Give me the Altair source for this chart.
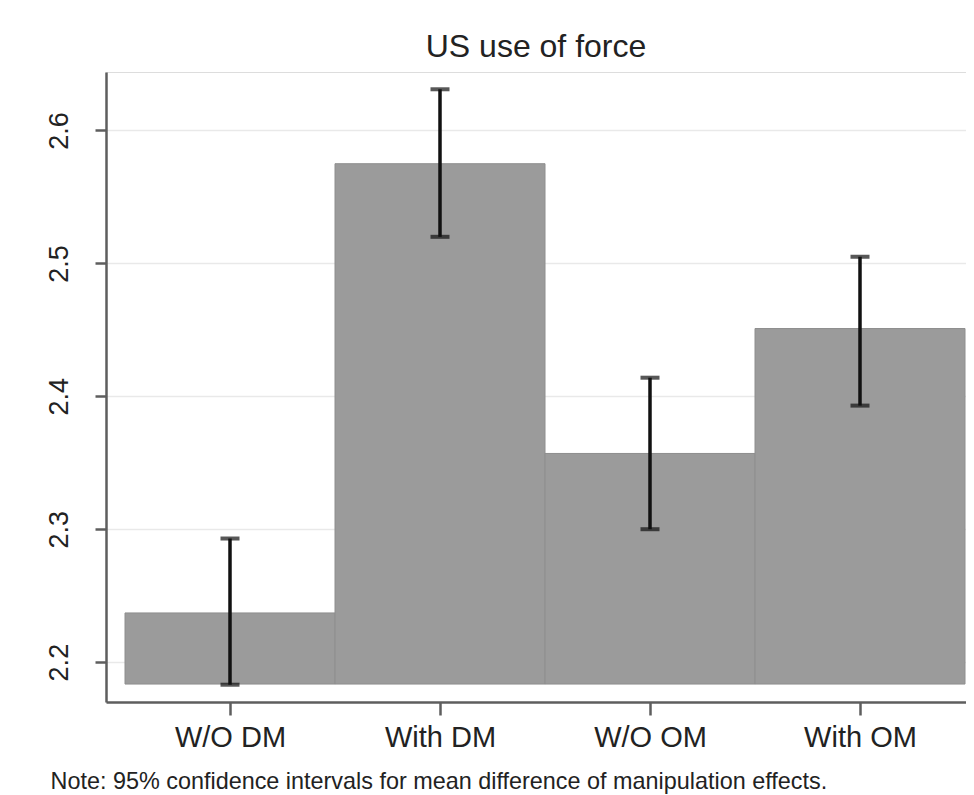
import json
import altair as alt
import pandas as pd

# ---- data ----
groups = ["W/O DM", "With DM", "W/O OM", "With OM"]
means = [2.237, 2.575, 2.357, 2.451]
ci_low = [2.183, 2.520, 2.300, 2.393]
ci_high = [2.293, 2.631, 2.414, 2.505]
bar_base = 2.1835
y_ticks = [2.2, 2.3, 2.4, 2.5, 2.6]
title_text = "US use of force"
note_text = "Note: 95% confidence intervals for mean difference of manipulation effects."

df = pd.DataFrame({
    "group": groups,
    "pos": list(range(len(groups))),
    "mean": means,
    "lo": ci_low,
    "hi": ci_high,
    "base": [bar_base] * len(groups),
})

FONT = "Liberation Sans"
TXT = "#222222"
AX = "#5e5e5e"

xscale = alt.Scale(domain=[-0.5 - 19 / 210, 3.5 + 1 / 210], nice=False, zero=False)
yscale = alt.Scale(domain=[2.17, 2.644], nice=False, zero=False)

label_expr = json.dumps(groups) + "[datum.value]"

x_axis = alt.Axis(
    values=list(range(len(groups))), labelExpr=label_expr, grid=False,
    title=note_text, titleFont=FONT, titleFontSize=23.4, titleFontWeight="normal",
    titleColor=TXT, titleAnchor="start", titleAlign="left", titleBaseline="alphabetic",
    titleX=-56, titleY=86,
    labelFont=FONT, labelFontSize=29, labelColor=TXT, labelPadding=8,
    domainColor=AX, domainWidth=2.5, tickColor=AX, tickWidth=2.5, tickSize=13,
)
y_axis = alt.Axis(
    values=y_ticks, title=None, grid=True, gridColor="#e9e9e9", gridWidth=1.5,
    labelFont=FONT, labelFontSize=27, labelColor=TXT, labelAngle=270,
    labelAlign="center", labelBaseline="alphabetic", labelPadding=28,
    domainColor=AX, domainWidth=2.5, tickColor=AX, tickWidth=2.5, tickSize=11,
    format=".1f",
)

base = alt.Chart(df)

bars = base.transform_calculate(
    x0="datum.pos - 0.5", x1="datum.pos + 0.5"
).mark_rect(color="#9b9b9b", stroke="#8e8e8e", strokeWidth=1).encode(
    x=alt.X("x0:Q", scale=xscale, axis=x_axis),
    x2="x1:Q",
    y=alt.Y("base:Q", scale=yscale, axis=y_axis),
    y2="mean:Q",
)

err = base.mark_rule(color="#111111", strokeWidth=3.5).encode(
    x=alt.X("pos:Q", scale=xscale),
    y=alt.Y("lo:Q", scale=yscale),
    y2="hi:Q",
)
cap_lo = base.mark_tick(orient="horizontal", size=19, thickness=4, color="#111111").encode(
    x=alt.X("pos:Q", scale=xscale),
    y=alt.Y("lo:Q", scale=yscale),
)
cap_hi = base.mark_tick(orient="horizontal", size=19, thickness=4, color="#111111").encode(
    x=alt.X("pos:Q", scale=xscale),
    y=alt.Y("hi:Q", scale=yscale),
)

chart = alt.layer(bars, err, cap_lo, cap_hi).properties(
    width=860,
    height=630,
    autosize=alt.AutoSizeParams(type="none"),
    padding={"left": 98, "top": 64, "right": 0, "bottom": 93},
    title=alt.TitleParams(
        text=title_text, font=FONT, fontSize=32, fontWeight="normal",
        color=TXT, anchor="middle", offset=8,
    ),
).configure_view(stroke=None).configure(background="white")

chart.save("out.html", embed_options={"renderer": "svg", "actions": False})
